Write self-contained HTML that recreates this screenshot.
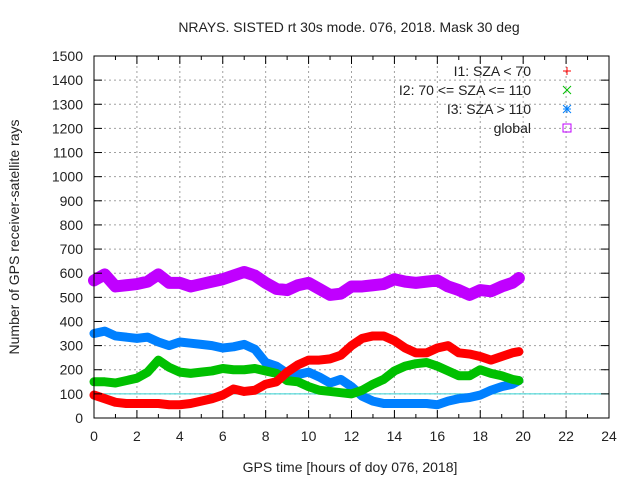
<!DOCTYPE html>
<html><head><meta charset="utf-8"><style>
body{margin:0;background:#fff;}
svg text{font-family:"Liberation Sans",sans-serif;font-size:14px;fill:#222;}
</style></head><body>
<svg id="chart" width="640" height="480" xmlns="http://www.w3.org/2000/svg">
<text x="349" y="32" text-anchor="middle">NRAYS. SISTED rt 30s mode. 076, 2018. Mask 30 deg</text>
<text transform="translate(19,237) rotate(-90)" text-anchor="middle">Number of GPS receiver-satellite rays</text>
<text x="350" y="472" text-anchor="middle">GPS time [hours of doy 076, 2018]</text>
<g id="grid"></g><g id="series"></g><g id="axes"></g><g id="legend"></g>
</svg>
<script>
const xTicks=[0,2,4,6,8,10,12,14,16,18,20,22,24];
const yTicks=[0,100,200,300,400,500,600,700,800,900,1000,1100,1200,1300,1400,1500];
const times=[0,0.5,1,1.5,2,2.5,3,3.5,4,4.5,5,5.5,6,6.5,7,7.5,8,8.5,9,9.5,10,10.5,11,11.5,12,12.5,13,13.5,14,14.5,15,15.5,16,16.5,17,17.5,18,18.5,19,19.5,19.8];
const globalVals=[570,595,545,550,555,565,595,560,560,545,555,565,575,590,605,590,560,535,530,550,560,535,510,515,545,545,550,555,575,565,560,565,570,545,530,510,530,525,545,560,580];
const i3Vals=[350,360,340,335,330,335,315,300,315,310,305,300,290,295,305,285,230,215,185,180,190,170,145,160,130,90,70,60,60,60,60,60,55,70,80,85,95,115,130,140,155];
const i1Vals=[95,80,65,60,60,60,60,55,55,60,70,80,95,120,110,115,140,150,190,220,240,240,245,260,300,330,340,340,320,290,270,270,290,300,270,265,255,240,255,270,275];
const i2Vals=[150,150,145,155,165,190,240,210,190,185,190,195,205,200,200,205,195,185,155,150,130,115,110,105,100,115,140,160,195,215,225,230,215,195,175,175,200,185,175,160,155];
const seriesKeys=['global','i3','i2','i1'];
const seriesColors=['#c000ff','#0080ff','#00c000','#ff0000'];
const seriesData=[globalVals,i3Vals,i2Vals,i1Vals];
const X0=94,X1=609,Y0=418,Y1=56;
const xs=v=>X0+(v-0)/(24-0)*(X1-X0);
const ys=v=>Y0-(v-0)/(1500-0)*(Y0-Y1);
const NS='http://www.w3.org/2000/svg';
function mk(tag,parent,attrs){const e=document.createElementNS(NS,tag);for(const k in attrs)e.setAttribute(k,attrs[k]);parent.appendChild(e);return e;}
const grid=document.getElementById('grid'),axes=document.getElementById('axes'),ser=document.getElementById('series'),leg=document.getElementById('legend');
xTicks.forEach(t=>{
 if(t>0&&t<24){const l=mk('line',grid,{x1:xs(t),x2:xs(t),y1:Y0,y2:Y1,stroke:'#a0a0a0','stroke-dasharray':'2,3'});
 
 }
 const tx=mk('text',axes,{x:xs(t),y:Y0+23,'text-anchor':'middle'});tx.textContent=t;
 
 
});
for(let h=0;h<=24;h++){const len=h%2?4:8;mk('line',axes,{x1:xs(h),x2:xs(h),y1:Y0,y2:Y0-len,stroke:'#000'});mk('line',axes,{x1:xs(h),x2:xs(h),y1:Y1,y2:Y1+len,stroke:'#000'});}
yTicks.forEach(t=>{
 if(t>0&&t<1500){const l=mk('line',grid,{x1:X0,x2:X1,y1:ys(t),y2:ys(t),stroke:'#a0a0a0','stroke-dasharray':'2,3'});
 
 }
 mk('line',axes,{x1:X0,x2:X0+8,y1:ys(t),y2:ys(t),stroke:'#000'});
 mk('line',axes,{x1:X1,x2:X1-8,y1:ys(t),y2:ys(t),stroke:'#000'});
 const tx=mk('text',axes,{x:X0-11,y:ys(t)+5,'text-anchor':'end'});tx.textContent=t;
 
 
});
const ref=mk('line',grid,{x1:X0,x2:X1,y1:ys(100),y2:ys(100),stroke:'#30d0d0','stroke-width':1});


const box=mk('rect',axes,{x:X0,y:Y1,width:X1-X0,height:Y0-Y1,fill:'none',stroke:'#000'});


seriesData.forEach((vals,i)=>{
 const pts=vals.map((v,j)=>xs(times[j])+','+ys(v)).join(' ');
 const p=mk('polyline',ser,{points:pts,fill:'none',stroke:seriesColors[i],'stroke-width':i==0?12:9,'stroke-linejoin':'round','stroke-linecap':'round'});
 
 
});
const legItems=[['I1: SZA < 70','#ff0000','plus'],['I2: 70 <= SZA <= 110','#00c000','x'],['I3: SZA > 110','#0080ff','star'],['global','#c000ff','sq']];
legItems.forEach((it,i)=>{
 const y=71+i*19;
 const g=mk('g',leg,{});
 
 
 const t=mk('text',g,{x:531,y:y+5,'text-anchor':'end'});t.textContent=it[0];
 const cx=567,c=it[1];
 if(it[2]=='plus'||it[2]=='star'){mk('line',g,{x1:cx-4,x2:cx+4,y1:y,y2:y,stroke:c});mk('line',g,{x1:cx,x2:cx,y1:y-4,y2:y+4,stroke:c});}
 if(it[2]=='x'||it[2]=='star'){mk('line',g,{x1:cx-4,x2:cx+4,y1:y-4,y2:y+4,stroke:c});mk('line',g,{x1:cx-4,x2:cx+4,y1:y+4,y2:y-4,stroke:c});}
 if(it[2]=='sq'){mk('rect',g,{x:cx-4,y:y-4,width:8,height:8,fill:'none',stroke:c});}
});
</script>
</body></html>
